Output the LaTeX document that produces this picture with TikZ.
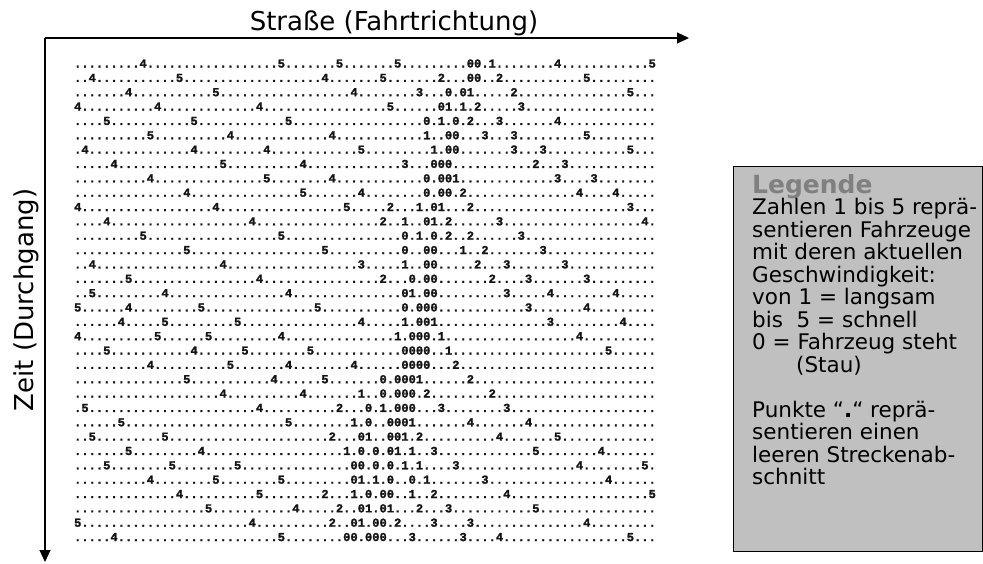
\documentclass[tikz,border=0pt]{standalone}
\usepackage{fontspec}
\setmainfont{DejaVu Sans}
\newfontfamily\gridfont{Liberation Mono}[BoldFeatures={FakeBold=1.6}]
\usetikzlibrary{arrows.meta}
\definecolor{legfill}{RGB}{192,192,192}
\definecolor{leggray}{RGB}{128,128,128}
\definecolor{gridink}{RGB}{20,20,20}
\makeatletter
\newcommand\mkrow[2]{%
  \foreach \cc/\dd in {#2}{\expandafter\xdef\csname gr@#1@\cc\endcsname{\dd}}%
  \gdef\rowstr{}%
  \foreach \kk in {0,...,79}{%
    \ifcsname gr@#1@\kk\endcsname
      \xdef\rowstr{\rowstr\csname gr@#1@\kk\endcsname}%
    \else
      \xdef\rowstr{\rowstr.}%
    \fi}%
}
\makeatother
\newcommand\gridrow[2]{\mkrow{#1}{#2}\node[gridtext] (row#1) at (73.9,{67.5+14.35*(#1-1)}) {\rowstr};}
\begin{document}
\begin{tikzpicture}[x=1pt,y=-1pt,
  gridtext/.style={anchor=base west,inner sep=0pt,text=gridink,font=\gridfont\bfseries\fontsize{12.12}{14}\selectfont},
  axis/.style={line width=1.2pt,-{Triangle[length=12pt,width=11pt]}},
  axlabel/.style={font=\fontsize{26}{30}\selectfont,inner sep=0pt},
  legendbox/.style={draw=black,line width=1pt,fill=legfill,minimum width=249pt,minimum height=385pt,inner sep=0pt,anchor=north west},
  legtitle/.style={font=\bfseries\fontsize{25}{28}\selectfont,text=leggray,inner sep=0pt,anchor=base west},
  legline/.style={font=\fontsize{21.5}{22.5}\selectfont,inner sep=0pt,anchor=base west}]
\useasboundingbox (0,0) rectangle (983,563);
\fill[white] (0,0) rectangle (983,563);
% axes
\coordinate (origin) at (45,38);
\coordinate (xend) at (689,38);
\coordinate (yend) at (45,562);
\draw[axis] (origin) -- (xend);
\draw[axis] (origin) -- (yend);
\node[axlabel,anchor=base] (xlabel) at (394,30) {Straße (Fahrtrichtung)};
\node[axlabel,anchor=base,rotate=90] (ylabel) at (33,300) {Zeit (Durchgang)};
% grid of the simulation
\gridrow{1}{9/4,28/5,36/5,44/5,54/0,55/0,57/1,66/4,79/5}
\gridrow{2}{2/4,14/5,34/4,42/5,50/2,54/0,55/0,58/2,70/5}
\gridrow{3}{7/4,19/5,38/4,47/3,51/0,53/0,54/1,60/2,76/5}
\gridrow{4}{0/4,11/4,25/4,43/5,50/0,51/1,53/1,55/2,61/3}
\gridrow{5}{4/5,16/5,29/5,48/0,50/1,52/0,54/2,58/3,66/4}
\gridrow{6}{10/5,21/4,35/4,48/1,51/0,52/0,56/3,60/3,70/5}
\gridrow{7}{1/4,16/4,26/4,39/5,49/1,51/0,52/0,60/3,64/3,76/5}
\gridrow{8}{5/4,20/5,31/4,45/3,49/0,50/0,51/0,63/2,67/3}
\gridrow{9}{10/4,26/5,35/4,48/0,50/0,51/0,52/1,66/3,71/3}
\gridrow{10}{15/4,31/5,39/4,48/0,50/0,51/0,53/2,69/4,74/4}
\gridrow{11}{0/4,19/4,37/5,43/2,47/1,49/0,50/1,54/2,76/3}
\gridrow{12}{4/4,24/4,42/2,45/1,48/0,49/1,51/2,58/3,78/4}
\gridrow{13}{9/5,28/5,45/0,47/1,49/0,51/2,54/2,61/3}
\gridrow{14}{15/5,34/5,45/0,48/0,49/0,53/1,56/2,64/3}
\gridrow{15}{2/4,20/4,39/3,45/1,48/0,49/0,55/2,59/3,67/3}
\gridrow{16}{7/5,25/4,42/2,46/0,48/0,49/0,57/2,62/3,70/3}
\gridrow{17}{2/5,12/4,29/4,45/0,46/1,48/0,49/0,59/3,65/4,74/4}
\gridrow{18}{0/5,7/4,17/5,33/5,45/0,47/0,48/0,49/0,62/3,70/4}
\gridrow{19}{6/4,12/5,22/5,39/4,45/1,47/0,48/0,49/1,65/3,75/4}
\gridrow{20}{0/4,11/5,18/5,28/4,44/1,46/0,47/0,48/0,50/1,69/4}
\gridrow{21}{4/5,16/4,23/5,32/5,45/0,46/0,47/0,48/0,51/1,73/5}
\gridrow{22}{10/4,21/5,29/4,38/4,45/0,46/0,47/0,48/0,52/2}
\gridrow{23}{15/5,27/4,34/5,42/0,44/0,45/0,46/0,47/1,54/2}
\gridrow{24}{20/4,31/4,39/1,42/0,44/0,45/0,46/0,48/2,57/2}
\gridrow{25}{1/5,25/4,36/2,40/0,42/1,44/0,45/0,46/0,50/3,59/3}
\gridrow{26}{6/5,29/5,38/1,40/0,43/0,44/0,45/0,46/1,54/4,62/4}
\gridrow{27}{2/5,12/5,35/2,39/0,40/1,43/0,44/0,45/1,47/2,58/4,66/5}
\gridrow{28}{7/5,17/4,37/1,39/0,41/0,43/0,44/1,46/1,49/3,63/5,72/4}
\gridrow{29}{4/5,13/5,22/5,38/0,39/0,41/0,43/0,45/1,47/1,52/3,69/4,78/5}
\gridrow{30}{10/4,19/5,28/5,38/0,39/1,41/1,43/0,46/0,48/1,56/3,73/4}
\gridrow{31}{14/4,25/5,34/2,38/1,40/0,42/0,43/0,46/1,49/2,59/4,79/5}
\gridrow{32}{18/5,30/4,36/2,39/0,40/1,42/0,43/1,47/2,51/3,63/5}
\gridrow{33}{0/5,24/4,35/2,38/0,39/1,41/0,42/0,44/2,49/3,54/3,70/4}
\gridrow{34}{5/4,28/5,37/0,38/0,40/0,41/0,42/0,46/3,53/3,58/4,76/5}
% legend
\node[legendbox] (legend) at (733,166) {};
\node[legtitle] (legtitle) at (752,193) {Legende};
\node[legline] (leg1) at (752,214.5) {Zahlen 1 bis 5 reprä-};
\node[legline] (leg2) at (752,237) {sentieren Fahrzeuge};
\node[legline] (leg3) at (752,259.5) {mit deren aktuellen};
\node[legline] (leg4) at (752,282) {Geschwindigkeit:};
\node[legline] (leg5) at (752,304.5) {von 1 = langsam};
\node[legline] (leg6) at (752,327) {bis\ \ 5 = schnell};
\node[legline] (leg7) at (752,349.5) {0 = Fahrzeug steht};
\node[legline] (leg8) at (796,372) {(Stau)};
\node[legline] (leg9) at (752,417) {Punkte “\textbf{.}“ reprä-};
\node[legline] (leg10) at (752,439.5) {sentieren einen};
\node[legline] (leg11) at (752,462) {leeren Streckenab-};
\node[legline] (leg12) at (752,484.5) {schnitt};
\end{tikzpicture}
\end{document}
